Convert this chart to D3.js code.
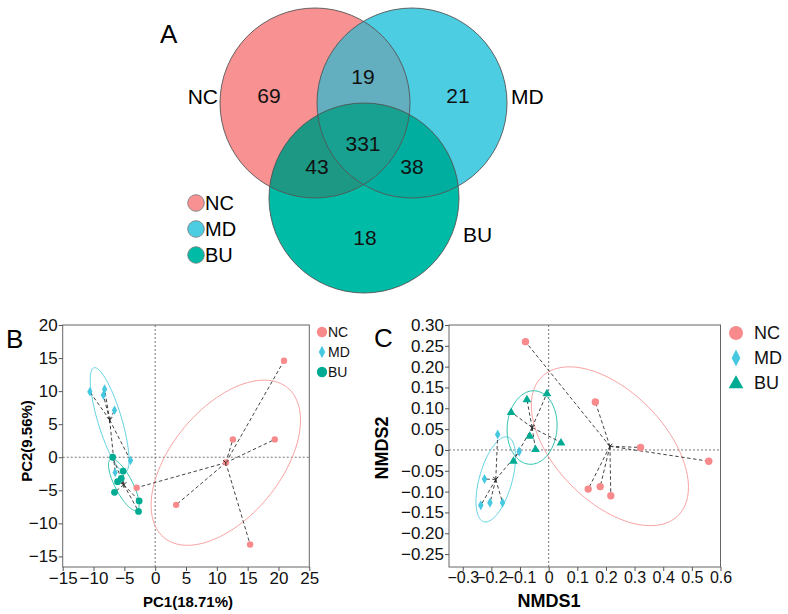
<!DOCTYPE html>
<html>
<head>
<meta charset="utf-8">
<script src="https://cdn.jsdelivr.net/npm/d3@7"></script>
<style>
  html, body { margin: 0; padding: 0; background: #fff; }
  svg { display: block; font-family: "Liberation Sans", Arial, Helvetica, sans-serif; }
</style>
</head>
<body>
<svg id="chart" width="788" height="614"></svg>
<script>
// ---------------- DATA ----------------
const groups = ["NC", "MD", "BU"];

// Venn diagram (panel A)
const vennRegions = ["NC", "MD", "BU", "NC&MD", "NC&BU", "MD&BU", "NC&MD&BU"];
const vennCounts  = [69, 21, 18, 19, 43, 38, 331];

// PCA (panel B)
const pcaNC_x = [20.9, 12.6, 19.4, 11.5, -3.0, 3.4, 15.4];
const pcaNC_y = [14.6, 2.7, 2.7, -0.8, -4.6, -7.2, -13.2];
const pcaMD_x = [-10.6, -8.2, -8.4, -6.6, -4.0, -6.5];
const pcaMD_y = [9.9, 10.3, 9.4, 7.1, -0.5, -2.3];
const pcaBU_x = [-6.9, -5.2, -5.5, -6.1, -6.6, -2.6, -2.7];
const pcaBU_y = [0.0, -2.1, -3.2, -3.7, -5.3, -6.6, -8.2];
const pcaXTicks = [-15, -10, -5, 0, 5, 10, 15, 20, 25];
const pcaYTicks = [-15, -10, -5, 0, 5, 10, 15, 20];
const pcaXLabel = "PC1(18.71%)";
const pcaYLabel = "PC2(9.56%)";

// NMDS (panel C)
const nmdsNC_x = [-0.081, 0.163, 0.321, 0.559, 0.138, 0.180, 0.217];
const nmdsNC_y = [0.260, 0.115, 0.006, -0.027, -0.094, -0.088, -0.110];
const nmdsMD_x = [-0.178, -0.103, -0.224, -0.237, -0.205, -0.161];
const nmdsMD_y = [0.037, -0.004, -0.070, -0.133, -0.127, -0.127];
const nmdsBU_x = [-0.006, -0.076, -0.131, -0.066, 0.043, -0.046, -0.123];
const nmdsBU_y = [0.136, 0.122, 0.091, 0.034, 0.018, 0.002, -0.026];
const nmdsXTicks = [-0.3, -0.2, -0.1, 0, 0.1, 0.2, 0.3, 0.4, 0.5, 0.6];
const nmdsYTicks = [-0.25, -0.2, -0.15, -0.1, -0.05, 0, 0.05, 0.1, 0.15, 0.2, 0.25, 0.3];
const nmdsXLabel = "NMDS1";
const nmdsYLabel = "NMDS2";

// ---------------- STYLE ----------------
const vennFill = { NC: "#f89191", MD: "#4ccde1", BU: "#00bca7" };
const vennOverlapFill = { "NC&MD": "#63aebf", "NC&BU": "#1c9884", "MD&BU": "#00ae9f", "NC&MD&BU": "#18a190" };
const ptColor = { NC: "#f88a8b", MD: "#45c8e0", BU: "#00ab94" };
const ellColor = { NC: "#f9a3a3", MD: "#62d2e2", BU: "#2cc2ad" };
const ELL_SCALE = 1.41;

const svg = d3.select("#chart");
svg.append("rect").attr("width", 788).attr("height", 614).attr("fill", "#fff");

// ---------------- PANEL A : VENN ----------------
const vennLayout = {
  r: 95,
  centers: { NC: [315, 103], MD: [412, 103], BU: [364, 198] },
  mid: [364, 135],
  labelOff: {
    "NC": [-95, -32], "MD": [94, -32], "BU": [1, 110],
    "NC&MD": [-1, -51], "NC&BU": [-47, 39], "MD&BU": [48, 39], "NC&MD&BU": [-1, 16]
  }
};
const gA = svg.append("g");
const defs = svg.append("defs");
groups.forEach(s => {
  defs.append("clipPath").attr("id", "clip-" + s)
    .append("circle")
    .attr("cx", vennLayout.centers[s][0]).attr("cy", vennLayout.centers[s][1]).attr("r", vennLayout.r);
});
function vcircle(parent, s) {
  return parent.append("circle")
    .attr("cx", vennLayout.centers[s][0]).attr("cy", vennLayout.centers[s][1]).attr("r", vennLayout.r);
}
groups.forEach(s => vcircle(gA, s).attr("fill", vennFill[s]));
vcircle(gA, "MD").attr("fill", vennOverlapFill["NC&MD"]).attr("clip-path", "url(#clip-NC)");
vcircle(gA, "BU").attr("fill", vennOverlapFill["NC&BU"]).attr("clip-path", "url(#clip-NC)");
vcircle(gA, "BU").attr("fill", vennOverlapFill["MD&BU"]).attr("clip-path", "url(#clip-MD)");
vcircle(gA.append("g").attr("clip-path", "url(#clip-MD)"), "BU")
  .attr("fill", vennOverlapFill["NC&MD&BU"]).attr("clip-path", "url(#clip-NC)");
groups.forEach(s => vcircle(gA, s).attr("fill", "none").attr("stroke", "#555").attr("stroke-width", 0.9));

vennRegions.forEach((reg, i) => {
  const o = vennLayout.labelOff[reg];
  gA.append("text")
    .attr("x", vennLayout.mid[0] + o[0]).attr("y", vennLayout.mid[1] + o[1])
    .attr("text-anchor", "middle").attr("font-size", 21).attr("fill", "#111")
    .text(vennCounts[i]);
});
gA.append("text").attr("x", 218).attr("y", 104).attr("text-anchor", "end").attr("font-size", 21).text("NC");
gA.append("text").attr("x", 511).attr("y", 104).attr("text-anchor", "start").attr("font-size", 21).text("MD");
gA.append("text").attr("x", 463).attr("y", 242).attr("text-anchor", "start").attr("font-size", 21).text("BU");
gA.append("text").attr("x", 160).attr("y", 43).attr("font-size", 26).text("A");
groups.forEach((s, i) => {
  const cy = 203 + 26 * i;
  gA.append("circle").attr("cx", 196).attr("cy", cy).attr("r", 8.3)
    .attr("fill", vennFill[s]).attr("stroke", "#777").attr("stroke-width", 0.8);
  gA.append("text").attr("x", 205).attr("y", cy + 7).attr("font-size", 20).text(s);
});

// ---------------- helpers ----------------
function ellipse(xs, ys, s) {
  const n = xs.length, mx = d3.mean(xs), my = d3.mean(ys);
  let a = 0, b = 0, c = 0;
  for (let i = 0; i < n; i++) {
    const dx = xs[i] - mx, dy = ys[i] - my;
    a += dx * dx; b += dx * dy; c += dy * dy;
  }
  a /= (n - 1); b /= (n - 1); c /= (n - 1);
  const th = 0.5 * Math.atan2(2 * b, a - c);
  const tr = (a + c) / 2, df = Math.sqrt(((a - c) / 2) ** 2 + b * b);
  const l1 = tr + df, l2 = Math.max(tr - df, 0);
  return d3.range(0, 361, 3).map(deg => {
    const t = deg * Math.PI / 180;
    const u = s * Math.sqrt(l1) * Math.cos(t), v = s * Math.sqrt(l2) * Math.sin(t);
    return [mx + u * Math.cos(th) - v * Math.sin(th), my + u * Math.sin(th) + v * Math.cos(th)];
  });
}
function diamondPath(w, h) { return `M0,${-h}L${w},0L0,${h}L${-w},0Z`; }
function trianglePath(w, h) { return `M0,${-h * 0.6}L${w},${h * 0.4}L${-w},${h * 0.4}Z`; }

function drawScatter(cfg) {
  const g = svg.append("g");
  const x = d3.scaleLinear().domain(cfg.xDomain).range(cfg.xRange);
  const y = d3.scaleLinear().domain(cfg.yDomain).range(cfg.yRange);
  const [x0, x1] = cfg.xRange, [y1, y0] = cfg.yRange;

  g.append("line").attr("x1", x0).attr("x2", x1).attr("y1", y(0)).attr("y2", y(0))
    .attr("stroke", "#777").attr("stroke-dasharray", "2,2").attr("stroke-width", 1);
  g.append("line").attr("x1", x(0)).attr("x2", x(0)).attr("y1", y0).attr("y2", y1)
    .attr("stroke", "#777").attr("stroke-dasharray", "2,2").attr("stroke-width", 1);

  const line = d3.line().x(d => x(d[0])).y(d => y(d[1]));
  cfg.series.forEach(sr => {
    g.append("path").attr("d", line(ellipse(sr.xs, sr.ys, ELL_SCALE)) + "Z")
      .attr("fill", "none").attr("stroke", ellColor[sr.name]).attr("stroke-width", 1);
  });
  cfg.series.forEach(sr => {
    const mx = d3.mean(sr.xs), my = d3.mean(sr.ys);
    sr.xs.forEach((v, i) => {
      g.append("line").attr("x1", x(mx)).attr("y1", y(my)).attr("x2", x(v)).attr("y2", y(sr.ys[i]))
        .attr("stroke", "#444").attr("stroke-width", 1).attr("stroke-dasharray", "3.5,2.5");
    });
  });
  cfg.series.forEach(sr => {
    sr.xs.forEach((v, i) => {
      const px = x(v), py = y(sr.ys[i]);
      if (sr.shape === "circle") {
        g.append("circle").attr("cx", px).attr("cy", py).attr("r", sr.size).attr("fill", ptColor[sr.name]);
      } else if (sr.shape === "diamond") {
        g.append("path").attr("d", diamondPath(sr.size * 0.55, sr.size)).attr("transform", `translate(${px},${py})`).attr("fill", ptColor[sr.name]);
      } else {
        g.append("path").attr("d", trianglePath(sr.size, sr.size * 1.7)).attr("transform", `translate(${px},${py})`).attr("fill", ptColor[sr.name]);
      }
    });
    const mx = d3.mean(sr.xs), my = d3.mean(sr.ys);
    g.append("path").attr("d", "M-2.5,-2.5L0,0L2.5,-2.5M0,0L0,3")
      .attr("transform", `translate(${x(mx)},${y(my)})`)
      .attr("stroke", "#222").attr("stroke-width", 1).attr("fill", "none");
  });

  g.append("rect").attr("x", x0).attr("y", y0).attr("width", x1 - x0).attr("height", y1 - y0)
    .attr("fill", "none").attr("stroke", "#666").attr("stroke-width", 1);

  const ax = g.append("g").attr("transform", `translate(0,${y1})`)
    .call(d3.axisBottom(x).tickValues(cfg.xTicks).tickSize(4).tickSizeOuter(0).tickPadding(1).tickFormat(cfg.xFmt));
  const ay = g.append("g").attr("transform", `translate(${x0},0)`)
    .call(d3.axisLeft(y).tickValues(cfg.yTicks).tickSize(4).tickSizeOuter(0).tickPadding(1).tickFormat(cfg.yFmt));
  [ax, ay].forEach(a => {
    a.select(".domain").remove();
    a.selectAll(".tick line").attr("stroke", "#555");
    a.selectAll(".tick text").attr("fill", "#111")
      .attr("font-family", "Liberation Sans, Arial, sans-serif");
  });
  ax.selectAll(".tick text").attr("font-size", cfg.xTickSize);
  ay.selectAll(".tick text").attr("font-size", cfg.yTickSize);

  g.append("text").attr("x", cfg.xTitlePos[0]).attr("y", cfg.xTitlePos[1]).attr("text-anchor", "middle")
    .attr("font-size", cfg.titleSize).attr("font-weight", "bold").text(cfg.xTitle);
  g.append("text").attr("transform", `translate(${cfg.yTitlePos[0]},${cfg.yTitlePos[1]}) rotate(-90)`)
    .attr("text-anchor", "middle").attr("font-size", cfg.titleSize).attr("font-weight", "bold").text(cfg.yTitle);
  g.append("text").attr("x", cfg.panelPos[0]).attr("y", cfg.panelPos[1]).attr("font-size", 26).text(cfg.panel);

  cfg.series.forEach((sr, i) => {
    const cy = cfg.legend.y + cfg.legend.step * i;
    const lx = cfg.legend.x;
    if (sr.legendShape === "circle") {
      g.append("circle").attr("cx", lx).attr("cy", cy).attr("r", cfg.legend.size).attr("fill", ptColor[sr.name]);
    } else if (sr.legendShape === "diamond") {
      g.append("path").attr("d", diamondPath(cfg.legend.size * 0.62, cfg.legend.size * 1.2)).attr("transform", `translate(${lx},${cy})`).attr("fill", ptColor[sr.name]);
    } else {
      g.append("path").attr("d", trianglePath(cfg.legend.size * 1.05, cfg.legend.size * 1.85)).attr("transform", `translate(${lx},${cy})`).attr("fill", ptColor[sr.name]);
    }
    g.append("text").attr("x", cfg.legend.tx).attr("y", cy + cfg.legend.fs * 0.36)
      .attr("font-size", cfg.legend.fs).attr("fill", "#111").text(sr.name);
  });
}

// ---------------- PANEL B : PCA ----------------
drawScatter({
  panel: "B", panelPos: [6, 348],
  xDomain: [-15, 25], xRange: [62.7, 309.3],
  yDomain: [-16.6, 20], yRange: [567, 325],
  xTicks: pcaXTicks, yTicks: pcaYTicks,
  xFmt: d3.format("d"), yFmt: d3.format("d"), xTickSize: 17, yTickSize: 17,
  xTitle: pcaXLabel, yTitle: pcaYLabel, titleSize: 15,
  xTitlePos: [188, 607], yTitlePos: [32, 441],
  series: [
    { name: "NC", xs: pcaNC_x, ys: pcaNC_y, shape: "circle", size: 3.2, legendShape: "circle" },
    { name: "MD", xs: pcaMD_x, ys: pcaMD_y, shape: "diamond", size: 4.8, legendShape: "diamond" },
    { name: "BU", xs: pcaBU_x, ys: pcaBU_y, shape: "circle", size: 3.4, legendShape: "circle" }
  ],
  legend: { x: 322, y: 332, step: 20, size: 5.2, tx: 328, fs: 14 }
});

// ---------------- PANEL C : NMDS ----------------
const fmtC = f => (d => d === 0 ? "0" : d3.format(f)(d));
drawScatter({
  panel: "C", panelPos: [374, 347],
  xDomain: [-0.348, 0.60], xRange: [449, 720.5],
  yDomain: [-0.281, 0.30], yRange: [567, 325],
  xTicks: nmdsXTicks, yTicks: nmdsYTicks,
  xFmt: fmtC(".1f"), yFmt: fmtC(".2f"), xTickSize: 16, yTickSize: 17,
  xTitle: nmdsXLabel, yTitle: nmdsYLabel, titleSize: 18,
  xTitlePos: [549, 607], yTitlePos: [388, 448],
  series: [
    { name: "NC", xs: nmdsNC_x, ys: nmdsNC_y, shape: "circle", size: 3.7, legendShape: "circle" },
    { name: "MD", xs: nmdsMD_x, ys: nmdsMD_y, shape: "diamond", size: 5, legendShape: "diamond" },
    { name: "BU", xs: nmdsBU_x, ys: nmdsBU_y, shape: "triangle", size: 4.4, legendShape: "triangle" }
  ],
  legend: { x: 736, y: 333, step: 25, size: 7, tx: 754, fs: 18 }
});
</script>
</body>
</html>
